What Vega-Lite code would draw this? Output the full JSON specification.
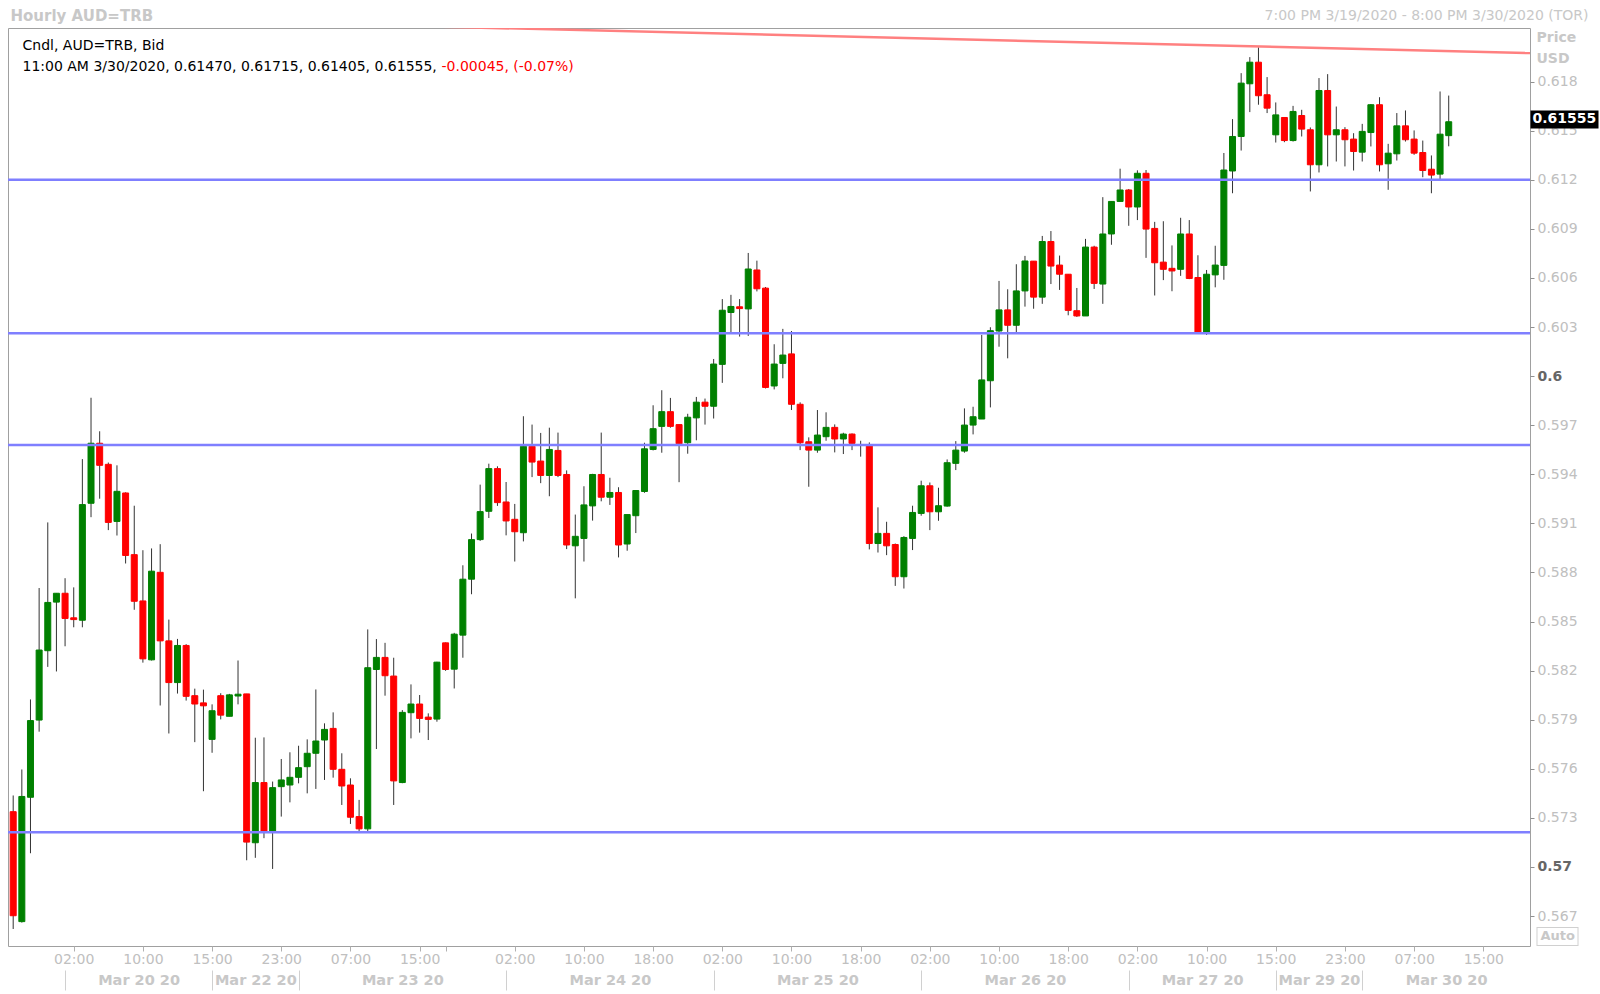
{
  "$schema": "https://vega.github.io/schema/vega-lite/v6.json",
  "width": 1522,
  "height": 918,
  "autosize": {"type": "none"},
  "padding": {"left": 8, "top": 28, "right": 70, "bottom": 48},
  "background": "#FFFFFF",
  "config": {
    "font": "DejaVu Sans",
    "view": {"stroke": "#A0A0A0", "strokeWidth": 1},
    "axis": {"grid": false}
  },
  "resolve": {"axis": {"x": "independent", "y": "independent"}},
  "datasets": {
    "candles": [
      {"i":0,"open":0.57338,"high":0.57437,"low":0.56621,"close":0.56702},
      {"i":1,"open":0.56666,"high":0.57596,"low":0.56660,"close":0.57431},
      {"i":2,"open":0.57426,"high":0.58024,"low":0.57084,"close":0.57895},
      {"i":3,"open":0.57898,"high":0.58705,"low":0.57827,"close":0.58326},
      {"i":4,"open":0.58322,"high":0.59106,"low":0.58223,"close":0.58617},
      {"i":5,"open":0.58619,"high":0.58673,"low":0.58195,"close":0.58673},
      {"i":6,"open":0.58673,"high":0.58765,"low":0.58349,"close":0.58519},
      {"i":7,"open":0.58523,"high":0.58709,"low":0.58465,"close":0.58512},
      {"i":8,"open":0.58508,"high":0.59493,"low":0.58465,"close":0.59215},
      {"i":9,"open":0.59223,"high":0.59868,"low":0.59138,"close":0.59590},
      {"i":10,"open":0.59590,"high":0.59663,"low":0.59251,"close":0.59455},
      {"i":11,"open":0.59461,"high":0.59472,"low":0.59059,"close":0.59106},
      {"i":12,"open":0.59112,"high":0.59455,"low":0.59026,"close":0.59296},
      {"i":13,"open":0.59286,"high":0.59290,"low":0.58855,"close":0.58904},
      {"i":14,"open":0.58909,"high":0.59208,"low":0.58572,"close":0.58624},
      {"i":15,"open":0.58626,"high":0.58936,"low":0.58249,"close":0.58272},
      {"i":16,"open":0.58266,"high":0.58947,"low":0.58262,"close":0.58808},
      {"i":17,"open":0.58801,"high":0.58973,"low":0.57987,"close":0.58382},
      {"i":18,"open":0.58382,"high":0.58512,"low":0.57816,"close":0.58127},
      {"i":19,"open":0.58127,"high":0.58394,"low":0.58060,"close":0.58354},
      {"i":20,"open":0.58354,"high":0.58362,"low":0.58017,"close":0.58043},
      {"i":21,"open":0.58047,"high":0.58090,"low":0.57763,"close":0.57996},
      {"i":22,"open":0.58003,"high":0.58084,"low":0.57463,"close":0.57985},
      {"i":23,"open":0.57780,"high":0.57994,"low":0.57698,"close":0.57955},
      {"i":24,"open":0.58047,"high":0.58062,"low":0.57902,"close":0.57928},
      {"i":25,"open":0.57921,"high":0.58058,"low":0.57921,"close":0.58052},
      {"i":26,"open":0.58045,"high":0.58262,"low":0.57994,"close":0.58056},
      {"i":27,"open":0.58058,"high":0.58058,"low":0.57041,"close":0.57152},
      {"i":28,"open":0.57148,"high":0.57790,"low":0.57056,"close":0.57516},
      {"i":29,"open":0.57516,"high":0.57792,"low":0.57176,"close":0.57220},
      {"i":30,"open":0.57220,"high":0.57522,"low":0.56988,"close":0.57485},
      {"i":31,"open":0.57491,"high":0.57660,"low":0.57308,"close":0.57532},
      {"i":32,"open":0.57501,"high":0.57701,"low":0.57395,"close":0.57548},
      {"i":33,"open":0.57548,"high":0.57741,"low":0.57511,"close":0.57607},
      {"i":34,"open":0.57613,"high":0.57780,"low":0.57450,"close":0.57695},
      {"i":35,"open":0.57695,"high":0.58085,"low":0.57477,"close":0.57770},
      {"i":36,"open":0.57776,"high":0.57878,"low":0.57532,"close":0.57841},
      {"i":37,"open":0.57847,"high":0.57945,"low":0.57546,"close":0.57597},
      {"i":38,"open":0.57597,"high":0.57695,"low":0.57379,"close":0.57495},
      {"i":39,"open":0.57501,"high":0.57542,"low":0.57263,"close":0.57304},
      {"i":40,"open":0.57308,"high":0.57410,"low":0.57216,"close":0.57233},
      {"i":41,"open":0.57233,"high":0.58452,"low":0.57216,"close":0.58218},
      {"i":42,"open":0.58207,"high":0.58393,"low":0.57721,"close":0.58281},
      {"i":43,"open":0.58281,"high":0.58370,"low":0.58047,"close":0.58169},
      {"i":44,"open":0.58167,"high":0.58279,"low":0.57379,"close":0.57526},
      {"i":45,"open":0.57516,"high":0.57959,"low":0.57512,"close":0.57945},
      {"i":46,"open":0.57943,"high":0.58116,"low":0.57786,"close":0.57996},
      {"i":47,"open":0.57996,"high":0.58051,"low":0.57821,"close":0.57908},
      {"i":48,"open":0.57916,"high":0.57939,"low":0.57776,"close":0.57902},
      {"i":49,"open":0.57904,"high":0.58254,"low":0.57888,"close":0.58252},
      {"i":50,"open":0.58370,"high":0.58372,"low":0.58199,"close":0.58207},
      {"i":51,"open":0.58209,"high":0.58431,"low":0.58091,"close":0.58423},
      {"i":52,"open":0.58417,"high":0.58844,"low":0.58279,"close":0.58759},
      {"i":53,"open":0.58759,"high":0.59038,"low":0.58667,"close":0.59001},
      {"i":54,"open":0.59001,"high":0.59337,"low":0.58993,"close":0.59172},
      {"i":55,"open":0.59174,"high":0.59465,"low":0.59133,"close":0.59435},
      {"i":56,"open":0.59435,"high":0.59449,"low":0.59207,"close":0.59227},
      {"i":57,"open":0.59231,"high":0.59353,"low":0.59027,"close":0.59115},
      {"i":58,"open":0.59125,"high":0.59219,"low":0.58867,"close":0.59049},
      {"i":59,"open":0.59043,"high":0.59755,"low":0.58990,"close":0.59571},
      {"i":60,"open":0.59571,"high":0.59704,"low":0.59383,"close":0.59475},
      {"i":61,"open":0.59481,"high":0.59653,"low":0.59346,"close":0.59393},
      {"i":62,"open":0.59393,"high":0.59685,"low":0.59266,"close":0.59552},
      {"i":63,"open":0.59546,"high":0.59655,"low":0.59383,"close":0.59393},
      {"i":64,"open":0.59399,"high":0.59424,"low":0.58943,"close":0.58968},
      {"i":65,"open":0.58963,"high":0.59154,"low":0.58642,"close":0.59021},
      {"i":66,"open":0.59008,"high":0.59327,"low":0.58867,"close":0.59213},
      {"i":67,"open":0.59207,"high":0.59403,"low":0.59117,"close":0.59399},
      {"i":68,"open":0.59399,"high":0.59655,"low":0.59235,"close":0.59260},
      {"i":69,"open":0.59260,"high":0.59379,"low":0.59213,"close":0.59289},
      {"i":70,"open":0.59289,"high":0.59321,"low":0.58892,"close":0.58968},
      {"i":71,"open":0.58974,"high":0.59154,"low":0.58933,"close":0.59154},
      {"i":72,"open":0.59147,"high":0.59301,"low":0.59041,"close":0.59301},
      {"i":73,"open":0.59295,"high":0.59593,"low":0.59287,"close":0.59556},
      {"i":74,"open":0.59552,"high":0.59822,"low":0.59546,"close":0.59679},
      {"i":75,"open":0.59693,"high":0.59914,"low":0.59532,"close":0.59783},
      {"i":76,"open":0.59783,"high":0.59867,"low":0.59685,"close":0.59693},
      {"i":77,"open":0.59704,"high":0.59704,"low":0.59352,"close":0.59587},
      {"i":78,"open":0.59593,"high":0.59770,"low":0.59526,"close":0.59749},
      {"i":79,"open":0.59745,"high":0.59873,"low":0.59608,"close":0.59841},
      {"i":80,"open":0.59841,"high":0.59863,"low":0.59704,"close":0.59816},
      {"i":81,"open":0.59816,"high":0.60105,"low":0.59741,"close":0.60074},
      {"i":82,"open":0.60072,"high":0.60471,"low":0.59959,"close":0.60403},
      {"i":83,"open":0.60389,"high":0.60497,"low":0.60266,"close":0.60426},
      {"i":84,"open":0.60424,"high":0.60471,"low":0.60242,"close":0.60413},
      {"i":85,"open":0.60411,"high":0.60753,"low":0.60246,"close":0.60655},
      {"i":86,"open":0.60649,"high":0.60706,"low":0.60518,"close":0.60534},
      {"i":87,"open":0.60538,"high":0.60545,"low":0.59925,"close":0.59931},
      {"i":88,"open":0.59940,"high":0.60195,"low":0.59919,"close":0.60074},
      {"i":89,"open":0.60078,"high":0.60289,"low":0.59987,"close":0.60129},
      {"i":90,"open":0.60136,"high":0.60276,"low":0.59793,"close":0.59828},
      {"i":91,"open":0.59828,"high":0.59840,"low":0.59548,"close":0.59593},
      {"i":92,"open":0.59599,"high":0.59626,"low":0.59324,"close":0.59548},
      {"i":93,"open":0.59548,"high":0.59793,"low":0.59532,"close":0.59640},
      {"i":94,"open":0.59630,"high":0.59779,"low":0.59605,"close":0.59687},
      {"i":95,"open":0.59687,"high":0.59705,"low":0.59534,"close":0.59616},
      {"i":96,"open":0.59616,"high":0.59654,"low":0.59524,"close":0.59646},
      {"i":97,"open":0.59646,"high":0.59650,"low":0.59548,"close":0.59589},
      {"i":98,"open":0.59580,"high":0.59605,"low":0.59508,"close":0.59578},
      {"i":99,"open":0.59579,"high":0.59595,"low":0.58941,"close":0.58977},
      {"i":100,"open":0.58977,"high":0.59198,"low":0.58922,"close":0.59039},
      {"i":101,"open":0.59039,"high":0.59110,"low":0.58906,"close":0.58963},
      {"i":102,"open":0.58971,"high":0.58977,"low":0.58718,"close":0.58774},
      {"i":103,"open":0.58774,"high":0.59022,"low":0.58702,"close":0.59014},
      {"i":104,"open":0.59008,"high":0.59208,"low":0.58937,"close":0.59167},
      {"i":105,"open":0.59161,"high":0.59361,"low":0.59147,"close":0.59330},
      {"i":106,"open":0.59330,"high":0.59350,"low":0.59059,"close":0.59171},
      {"i":107,"open":0.59171,"high":0.59318,"low":0.59116,"close":0.59208},
      {"i":108,"open":0.59206,"high":0.59491,"low":0.59202,"close":0.59471},
      {"i":109,"open":0.59467,"high":0.59603,"low":0.59426,"close":0.59548},
      {"i":110,"open":0.59542,"high":0.59803,"low":0.59532,"close":0.59701},
      {"i":111,"open":0.59701,"high":0.59813,"low":0.59644,"close":0.59752},
      {"i":112,"open":0.59738,"high":0.60252,"low":0.59738,"close":0.59977},
      {"i":113,"open":0.59972,"high":0.60299,"low":0.59809,"close":0.60278},
      {"i":114,"open":0.60276,"high":0.60582,"low":0.60180,"close":0.60405},
      {"i":115,"open":0.60405,"high":0.60531,"low":0.60109,"close":0.60311},
      {"i":116,"open":0.60311,"high":0.60684,"low":0.60262,"close":0.60521},
      {"i":117,"open":0.60521,"high":0.60735,"low":0.60425,"close":0.60704},
      {"i":118,"open":0.60703,"high":0.60703,"low":0.60412,"close":0.60483},
      {"i":119,"open":0.60483,"high":0.60857,"low":0.60442,"close":0.60823},
      {"i":120,"open":0.60823,"high":0.60887,"low":0.60563,"close":0.60673},
      {"i":121,"open":0.60679,"high":0.60737,"low":0.60527,"close":0.60623},
      {"i":122,"open":0.60623,"high":0.60623,"low":0.60372,"close":0.60402},
      {"i":123,"open":0.60400,"high":0.60539,"low":0.60362,"close":0.60368},
      {"i":124,"open":0.60368,"high":0.60839,"low":0.60368,"close":0.60789},
      {"i":125,"open":0.60789,"high":0.60797,"low":0.60533,"close":0.60567},
      {"i":126,"open":0.60563,"high":0.61094,"low":0.60442,"close":0.60869},
      {"i":127,"open":0.60869,"high":0.61068,"low":0.60803,"close":0.61068},
      {"i":128,"open":0.61068,"high":0.61268,"low":0.61068,"close":0.61138},
      {"i":129,"open":0.61138,"high":0.61144,"low":0.60919,"close":0.61034},
      {"i":130,"open":0.61034,"high":0.61258,"low":0.60954,"close":0.61240},
      {"i":131,"open":0.61240,"high":0.61260,"low":0.60723,"close":0.60899},
      {"i":132,"open":0.60903,"high":0.60943,"low":0.60493,"close":0.60693},
      {"i":133,"open":0.60697,"high":0.60947,"low":0.60587,"close":0.60653},
      {"i":134,"open":0.60659,"high":0.60799,"low":0.60519,"close":0.60643},
      {"i":135,"open":0.60653,"high":0.60968,"low":0.60613,"close":0.60869},
      {"i":136,"open":0.60869,"high":0.60954,"low":0.60593,"close":0.60597},
      {"i":137,"open":0.60603,"high":0.60739,"low":0.60266,"close":0.60266},
      {"i":138,"open":0.60266,"high":0.60649,"low":0.60252,"close":0.60623},
      {"i":139,"open":0.60619,"high":0.60797,"low":0.60543,"close":0.60679},
      {"i":140,"open":0.60677,"high":0.61364,"low":0.60589,"close":0.61260},
      {"i":141,"open":0.61254,"high":0.61571,"low":0.61118,"close":0.61465},
      {"i":142,"open":0.61465,"high":0.61852,"low":0.61379,"close":0.61791},
      {"i":143,"open":0.61787,"high":0.61950,"low":0.61614,"close":0.61919},
      {"i":144,"open":0.61919,"high":0.62010,"low":0.61659,"close":0.61714},
      {"i":145,"open":0.61720,"high":0.61828,"low":0.61608,"close":0.61638},
      {"i":146,"open":0.61475,"high":0.61673,"low":0.61428,"close":0.61597},
      {"i":147,"open":0.61581,"high":0.61581,"low":0.61430,"close":0.61440},
      {"i":148,"open":0.61440,"high":0.61652,"low":0.61434,"close":0.61618},
      {"i":149,"open":0.61593,"high":0.61628,"low":0.61465,"close":0.61510},
      {"i":150,"open":0.61506,"high":0.61520,"low":0.61129,"close":0.61292},
      {"i":151,"open":0.61292,"high":0.61822,"low":0.61245,"close":0.61746},
      {"i":152,"open":0.61746,"high":0.61846,"low":0.61282,"close":0.61475},
      {"i":153,"open":0.61475,"high":0.61648,"low":0.61312,"close":0.61506},
      {"i":154,"open":0.61506,"high":0.61522,"low":0.61282,"close":0.61445},
      {"i":155,"open":0.61449,"high":0.61485,"low":0.61257,"close":0.61373},
      {"i":156,"open":0.61369,"high":0.61542,"low":0.61312,"close":0.61496},
      {"i":157,"open":0.61489,"high":0.61663,"low":0.61404,"close":0.61659},
      {"i":158,"open":0.61659,"high":0.61705,"low":0.61251,"close":0.61292},
      {"i":159,"open":0.61298,"high":0.61420,"low":0.61139,"close":0.61363},
      {"i":160,"open":0.61359,"high":0.61608,"low":0.61318,"close":0.61530},
      {"i":161,"open":0.61530,"high":0.61624,"low":0.61434,"close":0.61445},
      {"i":162,"open":0.61449,"high":0.61502,"low":0.61353,"close":0.61363},
      {"i":163,"open":0.61367,"high":0.61440,"low":0.61216,"close":0.61257},
      {"i":164,"open":0.61265,"high":0.61349,"low":0.61118,"close":0.61229},
      {"i":165,"open":0.61235,"high":0.61740,"low":0.61204,"close":0.61479},
      {"i":166,"open":0.61470,"high":0.61715,"low":0.61405,"close":0.61555}
    ],
    "levels": [
      {"level": 0.61200},
      {"level": 0.60262},
      {"level": 0.59579},
      {"level": 0.57212}
    ],
    "trend": [
      {"i": 40, "price": 0.62148},
      {"i": 176, "price": 0.61974}
    ]
  },
  "layer": [
    {
      "data": {"name": "candles"},
      "mark": {"type": "rule", "color": "#333333", "strokeWidth": 1},
      "encoding": {
        "x": {
          "field": "i", "type": "quantitative",
          "scale": {"domain": [-0.6, 175.4], "nice": false, "zero": false, "padding": 0},
          "axis": {
            "orient": "bottom",
            "values": [7,15,23,31,39,47,50,58,66,74,82,90,98,106,114,122,130,138,146,154,162,170],
            "labelExpr": "{'7':'02:00','15':'10:00','23':'15:00','31':'23:00','39':'07:00','47':'15:00','50':'','58':'02:00','66':'10:00','74':'18:00','82':'02:00','90':'10:00','98':'18:00','106':'02:00','114':'10:00','122':'18:00','130':'02:00','138':'10:00','146':'15:00','154':'23:00','162':'07:00','170':'15:00'}[datum.value]",
            "domain": false, "grid": false,
            "ticks": true, "tickSize": 5, "tickColor": "#B0B0B0",
            "labelColor": "#C0C0C0", "labelFontSize": 14, "labelPadding": 1,
            "labelOverlap": false, "labelFlush": false, "labelBound": false,
            "title": null
          }
        },
        "y": {
          "field": "low", "type": "quantitative",
          "scale": {"domain": [0.56517, 0.62128], "nice": false, "zero": false},
          "axis": {
            "orient": "right",
            "values": [0.567,0.57,0.573,0.576,0.579,0.582,0.585,0.588,0.591,0.594,0.597,0.6,0.603,0.606,0.609,0.612,0.615,0.618],
            "format": ".3~f",
            "domain": false, "grid": false,
            "tickSize": 4, "tickColor": "#909090",
            "labelPadding": 3, "labelFontSize": 14,
            "labelColor": {"condition": {"test": "datum.value == 0.6 || datum.value == 0.57", "value": "#666666"}, "value": "#C0C0C0"},
            "labelFontWeight": {"condition": {"test": "datum.value == 0.6 || datum.value == 0.57", "value": "bold"}, "value": "normal"},
            "labelOverlap": false, "labelFlush": false, "labelBound": false,
            "title": ["Price", "USD"],
            "titleAngle": 0, "titleAlign": "left", "titleBaseline": "top",
            "titleX": 6, "titleY": 2, "titleFontSize": 14, "titleFontWeight": "bold",
            "titleColor": "#C8C8C8", "titleLineHeight": 21
          }
        },
        "y2": {"field": "high"}
      }
    },
    {
      "data": {"name": "candles"},
      "mark": {"type": "bar", "size": 6, "strokeWidth": 1},
      "encoding": {
        "x": {
          "field": "i", "type": "quantitative",
          "scale": {"domain": [-0.6, 175.4], "nice": false, "zero": false, "padding": 0},
          "axis": {
            "orient": "bottom",
            "values": [6,23,33,57,81,105,129,146,156],
            "labels": false, "domain": false, "grid": false,
            "tickSize": 20, "tickColor": "#D0D0D0", "offset": 24,
            "title": "Hourly AUD=TRB",
            "titleX": 2, "titleY": -955, "titleAlign": "left", "titleBaseline": "middle",
            "titleAngle": 0, "titleFontSize": 15, "titleFontWeight": "bold", "titleColor": "#C8C8C8"
          }
        },
        "y": {
          "field": "open", "type": "quantitative",
          "scale": {"domain": [0.56517, 0.62128], "nice": false, "zero": false},
          "axis": {
            "orient": "right",
            "values": [0.61555],
            "format": ".5f",
            "domain": false, "grid": false,
            "tickSize": 68, "tickWidth": 18, "tickColor": "#000000", "tickCap": "butt", "tickOffset": -3,
            "labelPadding": -66, "labelColor": "#FFFFFF", "labelFontWeight": "bold", "labelFontSize": 14,
            "labelAlign": "left", "labelBaseline": "middle",
            "labelOverlap": false, "labelFlush": false, "labelBound": false,
            "zindex": 1,
            "title": ["Cndl, AUD=TRB, Bid", "11:00 AM 3/30/2020, 0.61470, 0.61715, 0.61405, 0.61555,"],
            "titleAngle": 0, "titleAlign": "left", "titleBaseline": "top",
            "titleX": -1508, "titleY": 10, "titleColor": "#000000",
            "titleFontWeight": "normal", "titleFontSize": 14, "titleLineHeight": 21
          }
        },
        "y2": {"field": "close"},
        "color": {"condition": {"test": "datum.close >= datum.open", "value": "#008000"}, "value": "#FF0000"},
        "stroke": {"condition": {"test": "datum.close >= datum.open", "value": "#008000"}, "value": "#FF0000"}
      }
    },
    {
      "data": {"name": "trend"},
      "mark": {"type": "line", "color": "#FF8080", "strokeWidth": 2.5, "clip": true},
      "encoding": {
        "x": {
          "field": "i", "type": "quantitative",
          "scale": {"domain": [-0.6, 175.4], "nice": false, "zero": false, "padding": 0},
          "axis": {
            "orient": "bottom",
            "values": [14.5,28,45,69,93,117,137.5,151,165.7],
            "labelExpr": "{'14.5':'Mar 20 20','28':'Mar 22 20','45':'Mar 23 20','69':'Mar 24 20','93':'Mar 25 20','117':'Mar 26 20','137.5':'Mar 27 20','151':'Mar 29 20','165.7':'Mar 30 20'}[datum.value]",
            "ticks": false, "domain": false, "grid": false, "offset": 24,
            "labelPadding": 3, "labelFontSize": 14.5, "labelFontWeight": "bold", "labelColor": "#C8C8C8",
            "labelOverlap": false, "labelFlush": false, "labelBound": false,
            "title": "7:00 PM 3/19/2020 - 8:00 PM 3/30/2020 (TOR)",
            "titleX": 1580, "titleY": -955, "titleAlign": "right", "titleBaseline": "middle",
            "titleAngle": 0, "titleFontSize": 14, "titleFontWeight": "normal", "titleColor": "#C8C8C8"
          }
        },
        "y": {
          "field": "price", "type": "quantitative",
          "scale": {"domain": [0.56517, 0.62128], "nice": false, "zero": false},
          "axis": {
            "orient": "right",
            "values": [0.56581],
            "labels": false, "domain": false, "grid": false,
            "tickSize": 42, "tickWidth": 19, "tickColor": "#D0D0D0", "tickCap": "butt", "offset": 6,
            "zindex": 1,
            "title": "-0.00045, (-0.07%)",
            "titleAngle": 0, "titleAlign": "left", "titleBaseline": "top",
            "titleX": -1095, "titleY": 31, "titleColor": "#FF0000",
            "titleFontWeight": "normal", "titleFontSize": 14
          }
        }
      }
    },
    {
      "data": {"name": "levels"},
      "mark": {"type": "rule", "color": "#7F7FFF", "strokeWidth": 2.5},
      "encoding": {
        "y": {
          "field": "level", "type": "quantitative",
          "scale": {"domain": [0.56517, 0.62128], "nice": false, "zero": false},
          "axis": {
            "orient": "right",
            "values": [0.56581],
            "labelExpr": "'Auto'",
            "domain": false, "grid": false,
            "tickSize": 40, "tickWidth": 17, "tickColor": "#FFFFFF", "tickCap": "butt", "offset": 7,
            "labelPadding": -37, "labelColor": "#C8C8C8", "labelFontWeight": "bold", "labelFontSize": 13,
            "labelAlign": "left", "labelBaseline": "middle",
            "labelOverlap": false, "labelFlush": false, "labelBound": false,
            "zindex": 2,
            "title": null
          }
        }
      }
    }
  ]
}
